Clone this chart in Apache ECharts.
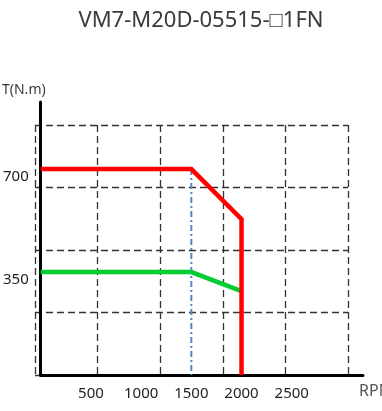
<!DOCTYPE html>
<html><head><meta charset="utf-8">
<script src="https://cdn.jsdelivr.net/npm/echarts@6/dist/echarts.min.js"></script>
<style>html,body{margin:0;padding:0;background:#fff}#c{width:382px;height:411px}</style>
</head><body><div id="c"></div>
<script>
const titleText = 'VM7-M20D-05515-□1FN';
const peakRpm = [0, 1500, 2000, 2000];
const peakTorque = [700, 700, 530, 0];
const ratedRpm = [0, 1500, 2000];
const ratedTorque = [350, 350, 285];
const baseRpm = [1500, 1500];
const baseTorque = [700, 0];
const xTickLabels = [500, 1000, 1500, 2000, 2500];
const yTickLabels = [350, 700];

const font = 'Noto Sans';
const pairs = (xs, ys) => xs.map((x, i) => [x, ys[i]]);
const chart = echarts.init(document.getElementById('c'), null, {renderer: 'canvas'});
const dashGrid = {show: true, lineStyle: {color: '#333', width: 1.3, type: [7, 4]}};
chart.setOption({
  animation: false,
  graphic: [
    {type: 'text', x: 201, y: 10, style: {text: titleText, font: '22px "Noto Sans"', fill: '#3a3a3a', align: 'center', verticalAlign: 'top'}},
    {type: 'text', x: 2, y: 83, style: {text: 'T(N.m)', font: '14px "Noto Sans"', fill: '#3a3a3a'}},
    {type: 'text', x: 359, y: 383, style: {text: 'RPM', font: '16px "Noto Sans"', fill: '#555'}}
  ],
  grid: [
    {left: 35, right: 34, top: 125, bottom: 36},
    {left: 35, right: 19, top: 102, bottom: 36}
  ],
  xAxis: [
    {type: 'value', gridIndex: 0, min: 0, max: 5, interval: 1, axisLine: {show: false}, axisTick: {show: false}, axisLabel: {show: false}, splitLine: dashGrid},
    {type: 'value', gridIndex: 1, min: 0, max: 3210, interval: 500,
      axisLine: {show: true, onZero: false, lineStyle: {color: '#000', width: 3}}, axisTick: {show: false}, splitLine: {show: false},
      axisLabel: {margin: 11, fontFamily: font, fontSize: 15, color: '#222',
        formatter: v => xTickLabels.includes(v) ? String(v) : ''}}
  ],
  yAxis: [
    {type: 'value', gridIndex: 0, min: 0, max: 4, interval: 1, axisLine: {show: false}, axisTick: {show: false}, axisLabel: {show: false}, splitLine: dashGrid},
    {type: 'value', gridIndex: 1, min: 0, max: 928, interval: 350,
      axisLine: {show: true, onZero: false, lineStyle: {color: '#000', width: 3}}, axisTick: {show: false}, splitLine: {show: false},
      axisLabel: {margin: 12, fontFamily: font, fontSize: 15, color: '#222', verticalAlign: 'top',
        formatter: v => yTickLabels.includes(v) ? String(v) : ''}}
  ],
  series: [
    {type: 'line', xAxisIndex: 1, yAxisIndex: 1, data: pairs(baseRpm, baseTorque), symbol: 'none', z: 3,
      lineStyle: {color: '#5585c8', width: 2, type: [6, 3, 2, 3]}},
    {type: 'line', xAxisIndex: 1, yAxisIndex: 1, data: pairs(ratedRpm, ratedTorque), symbol: 'none', z: 4,
      lineStyle: {color: '#00cc33', width: 4.5, join: 'miter'}},
    {type: 'line', xAxisIndex: 1, yAxisIndex: 1, data: pairs(peakRpm, peakTorque), symbol: 'none', z: 5,
      lineStyle: {color: '#ff0000', width: 4.5, join: 'miter'}}
  ]
});
</script></body></html>
